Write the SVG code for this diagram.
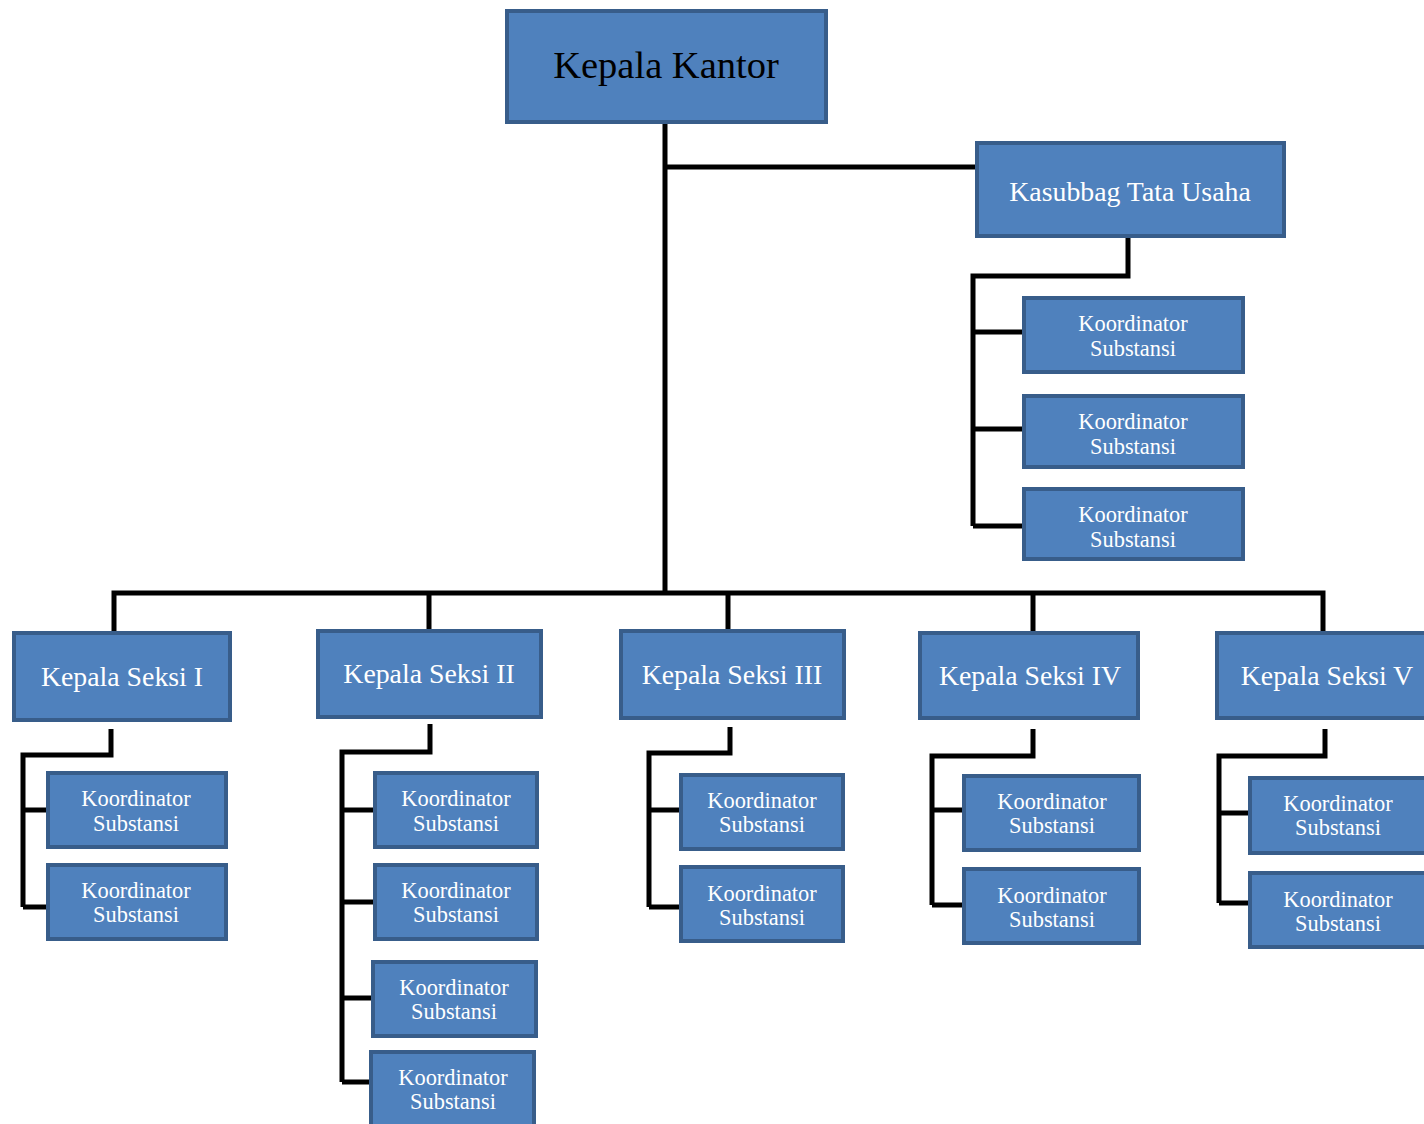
<svg xmlns="http://www.w3.org/2000/svg" width="1424" height="1124" viewBox="0 0 1424 1124">
<style>
.box{fill:#4F81BD;stroke:#385D8A;stroke-width:4}
.ln{fill:none;stroke:#000;stroke-width:5;stroke-linejoin:miter}
text{font-family:"Liberation Serif","Times New Roman",serif;text-anchor:middle}
.w{fill:#fff}
.big{font-size:38.5px;fill:#000}
.mid{font-size:27.8px}
.sm{font-size:22.4px}
</style>
<rect width="1424" height="1124" fill="#fff"/>
<g id="connectors">
<path class="ln" d="M665 124V593M665 167H975"/>
<path class="ln" d="M1128 238V276H973V526M973 332H1022M973 429H1022M973 526H1022"/>
<path class="ln" d="M114 631V593H1323V631M429 593V629M728 593V629M1033 593V631"/>
<path class="ln" d="M111 729V755H23V907M23 810H46M23 907H46"/>
<path class="ln" d="M430 724V752H342V1082M342 810H373M342 902H373M342 998H371M342 1082H369"/>
<path class="ln" d="M730 727V753H649V907M649 810H679M649 907H679"/>
<path class="ln" d="M1033 729V756H932V905M932 810H962M932 905H962"/>
<path class="ln" d="M1325 729V756H1219V903M1219 813H1248M1219 903H1248"/>
</g>
<g id="kepala-kantor"><rect class="box" x="507" y="11" width="319" height="111"/><text class="big" x="666" y="78">Kepala Kantor</text></g>
<g id="kasubbag"><rect class="box" x="977" y="143" width="307" height="93"/><text class="w mid" x="1130" y="201">Kasubbag Tata Usaha</text></g>
<g id="tu-k1"><rect class="box" x="1024" y="298" width="219" height="74"/><text class="w sm" x="1133" y="331">Koordinator</text><text class="w sm" x="1133" y="356">Substansi</text></g>
<g id="tu-k2"><rect class="box" x="1024" y="396" width="219" height="71"/><text class="w sm" x="1133" y="429">Koordinator</text><text class="w sm" x="1133" y="454">Substansi</text></g>
<g id="tu-k3"><rect class="box" x="1024" y="489" width="219" height="70"/><text class="w sm" x="1133" y="522">Koordinator</text><text class="w sm" x="1133" y="547">Substansi</text></g>

<g id="seksi-1"><rect class="box" x="14" y="633" width="216" height="87"/><text class="w mid" x="122" y="686">Kepala Seksi I</text></g>
<g id="s1-k1"><rect class="box" x="48" y="773" width="178" height="74"/><text class="w sm" x="136" y="806">Koordinator</text><text class="w sm" x="136" y="831">Substansi</text></g>
<g id="s1-k2"><rect class="box" x="48" y="865" width="178" height="74"/><text class="w sm" x="136" y="898">Koordinator</text><text class="w sm" x="136" y="922">Substansi</text></g>

<g id="seksi-2"><rect class="box" x="318" y="631" width="223" height="86"/><text class="w mid" x="429" y="683">Kepala Seksi II</text></g>
<g id="s2-k1"><rect class="box" x="375" y="773" width="162" height="74"/><text class="w sm" x="456" y="806">Koordinator</text><text class="w sm" x="456" y="831">Substansi</text></g>
<g id="s2-k2"><rect class="box" x="375" y="865" width="162" height="74"/><text class="w sm" x="456" y="898">Koordinator</text><text class="w sm" x="456" y="922">Substansi</text></g>
<g id="s2-k3"><rect class="box" x="373" y="962" width="163" height="74"/><text class="w sm" x="454" y="995">Koordinator</text><text class="w sm" x="454" y="1019">Substansi</text></g>
<g id="s2-k4"><rect class="box" x="371" y="1052" width="163" height="80"/><text class="w sm" x="453" y="1085">Koordinator</text><text class="w sm" x="453" y="1109">Substansi</text></g>

<g id="seksi-3"><rect class="box" x="621" y="631" width="223" height="87"/><text class="w mid" x="732" y="684">Kepala Seksi III</text></g>
<g id="s3-k1"><rect class="box" x="681" y="775" width="162" height="74"/><text class="w sm" x="762" y="808">Koordinator</text><text class="w sm" x="762" y="832">Substansi</text></g>
<g id="s3-k2"><rect class="box" x="681" y="867" width="162" height="74"/><text class="w sm" x="762" y="901">Koordinator</text><text class="w sm" x="762" y="925">Substansi</text></g>

<g id="seksi-4"><rect class="box" x="920" y="633" width="218" height="85"/><text class="w mid" x="1030" y="685">Kepala Seksi IV</text></g>
<g id="s4-k1"><rect class="box" x="964" y="776" width="175" height="74"/><text class="w sm" x="1052" y="809">Koordinator</text><text class="w sm" x="1052" y="833">Substansi</text></g>
<g id="s4-k2"><rect class="box" x="964" y="869" width="175" height="74"/><text class="w sm" x="1052" y="903">Koordinator</text><text class="w sm" x="1052" y="927">Substansi</text></g>

<g id="seksi-5"><rect class="box" x="1217" y="633" width="215" height="85"/><text class="w mid" x="1327" y="685">Kepala Seksi V</text></g>
<g id="s5-k1"><rect class="box" x="1250" y="778" width="180" height="75"/><text class="w sm" x="1338" y="811">Koordinator</text><text class="w sm" x="1338" y="835">Substansi</text></g>
<g id="s5-k2"><rect class="box" x="1250" y="873" width="180" height="74"/><text class="w sm" x="1338" y="907">Koordinator</text><text class="w sm" x="1338" y="931">Substansi</text></g>
</svg>
